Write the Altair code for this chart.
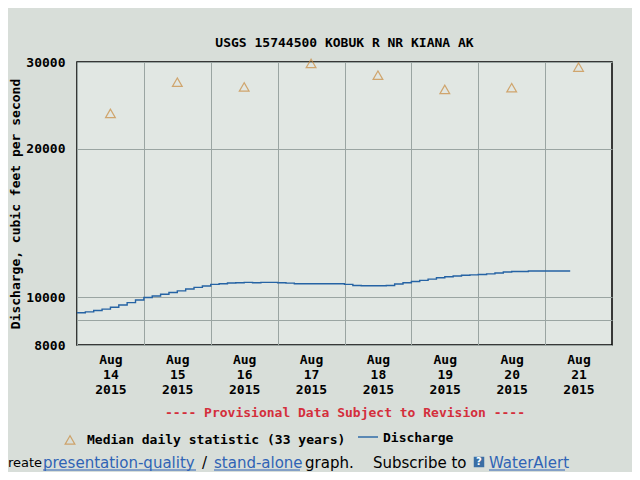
import altair as alt
import pandas as pd

title_text = "USGS 15744500 KOBUK R NR KIANA AK"
y_title = "Discharge, cubic feet per second"
x_title = "---- Provisional Data Subject to Revision ----"

days = ["2015-08-14", "2015-08-15", "2015-08-16", "2015-08-17",
        "2015-08-18", "2015-08-19", "2015-08-20", "2015-08-21"]
median_values = [23600, 27300, 26700, 29800, 28200, 26400, 26600, 29300]

discharge_start = "2015-08-14T00:00:00Z"
discharge_step = "3h"
discharge_values = [
    9300, 9340, 9400, 9460, 9540, 9640, 9750, 9870,
    9990, 10060, 10140, 10220, 10300, 10390, 10470, 10540,
    10620, 10650, 10690, 10700, 10720, 10700, 10720, 10720,
    10700, 10680, 10650, 10650, 10650, 10650, 10650, 10650,
    10620, 10560, 10550, 10550, 10550, 10560, 10640, 10700,
    10760, 10820, 10880, 10950, 11000, 11040, 11080, 11100,
    11120, 11150, 11200, 11250, 11280, 11280, 11300, 11300,
    11300, 11300, 11300, 11300,
]

y_ticks = [8000, 9000, 10000, 20000, 30000]

median_df = pd.DataFrame({"t": [d + "T12:00:00Z" for d in days], "q": median_values})
times = pd.date_range(discharge_start, periods=len(discharge_values), freq=discharge_step)
dis_df = pd.DataFrame({"t": times.strftime("%Y-%m-%dT%H:%M:%SZ"), "q": discharge_values})

MONO = "DejaVu Sans Mono"
SANS = "DejaVu Sans"
ORANGE = "#c98a3c"
BLUE = "#2563a4"
LINKBLUE = "#2f63b5"

def dt(day):
    return alt.DateTime(year=2015, month=8, date=day, utc=True)

x_enc = alt.X(
    "t:T",
    scale=alt.Scale(type="utc", domain=[dt(14), dt(22)]),
    axis=alt.Axis(
        values=[dt(d) for d in range(14, 22)],
        labelExpr="[utcFormat(datum.value, '%b'), utcFormat(datum.value, '%d'), utcFormat(datum.value, '%Y')]",
        labelOffset=33.4, labelAlign="center", labelBaseline="top",
        labelLineHeight=15, labelPadding=8, labelFlush=False, labelOverlap=False,
        ticks=False, domain=False, grid=True,
        title=x_title, titleColor="#d42f3c", titlePadding=10,
    ),
)
y_enc = alt.Y(
    "q:Q",
    scale=alt.Scale(type="log", domain=[8000, 30000]),
    axis=alt.Axis(
        values=y_ticks,
        labelExpr="datum.value == 9000 ? '' : format(datum.value, 'd')",
        ticks=False, domain=False, grid=True, labelPadding=12,
        title=y_title, titlePadding=3,
    ),
)

line = alt.Chart(dis_df).mark_line(interpolate="step-after", color=BLUE, strokeWidth=1.4).encode(x=x_enc, y=y_enc)
pts = alt.Chart(median_df).mark_point(shape="triangle-up", filled=False, color=ORANGE, size=95, strokeWidth=1.2).encode(x=x_enc, y=y_enc)

one = pd.DataFrame({"a": [0]})

def txt(s, x, y, color="black", font=MONO, size=13, weight="bold"):
    return alt.Chart(one).mark_text(text=s, align="left", baseline="middle", font=font,
                                    fontSize=size, fontWeight=weight, color=color).encode(
        x=alt.value(x), y=alt.value(y))

def uline(x1, x2, y, color=LINKBLUE):
    return alt.Chart(one).mark_rule(color=color, strokeWidth=1).encode(
        x=alt.value(x1), x2=alt.value(x2), y=alt.value(y))

leg_tri = alt.Chart(one).mark_point(shape="triangle-up", filled=False, color=ORANGE, size=95, strokeWidth=1.2).encode(
    x=alt.value(-7), y=alt.value(378))
leg_line = alt.Chart(one).mark_rule(color=BLUE, strokeWidth=1.4).encode(
    x=alt.value(281), x2=alt.value(301), y=alt.value(375))

BY = 401
bottom = [
    txt("reate", -69, BY, font=SANS, size=13, weight="normal"),
    txt("presentation-quality", -34, BY, color=LINKBLUE, font=SANS, size=15, weight="normal"),
    txt("/", 125, BY, font=SANS, size=15, weight="normal"),
    txt("stand-alone", 137, BY, color=LINKBLUE, font=SANS, size=15, weight="normal"),
    txt("graph.", 228, BY, font=SANS, size=15, weight="normal"),
    txt("Subscribe to", 296, BY, font=SANS, size=15, weight="normal"),
    txt("WaterAlert", 412, BY, color=LINKBLUE, font=SANS, size=15, weight="normal"),
    uline(-34, 119, BY + 7),
    uline(137, 223, BY + 7),
    uline(412, 488, BY + 7),
]
icon = alt.Chart(one).mark_square(color="#3a6ea5", size=110, opacity=1).encode(x=alt.value(402), y=alt.value(BY - 1))
icon_q = alt.Chart(one).mark_text(text="?", font=SANS, fontSize=10, fontWeight="bold", color="white").encode(
    x=alt.value(402), y=alt.value(BY - 1))

chart = alt.layer(
    line, pts, leg_tri, leg_line,
    txt("Median daily statistic (33 years)", 10, 378),
    txt("Discharge", 306, 376),
    *bottom, icon, icon_q,
).properties(
    width=535, height=283,
    title=alt.Title(title_text, font=MONO, fontSize=13, fontWeight="bold", color="black", offset=10, dy=4, anchor="middle"),
    autosize=alt.AutoSizeParams(type="none"),
    padding={"left": 69, "top": 54, "right": 20, "bottom": 127},
    background="#d8ded9",
).configure_view(
    fill="#e1e7e3", stroke="black", strokeWidth=1.5,
).configure_axis(
    labelFont=MONO, labelFontSize=13, labelFontWeight="bold", labelColor="black",
    titleFont=MONO, titleFontSize=13, titleFontWeight="bold", titleColor="black",
    gridColor="#9aa5a2", gridWidth=1, gridOpacity=1,
)

chart.save("out.html", embed_options={"renderer": "svg", "actions": False})
